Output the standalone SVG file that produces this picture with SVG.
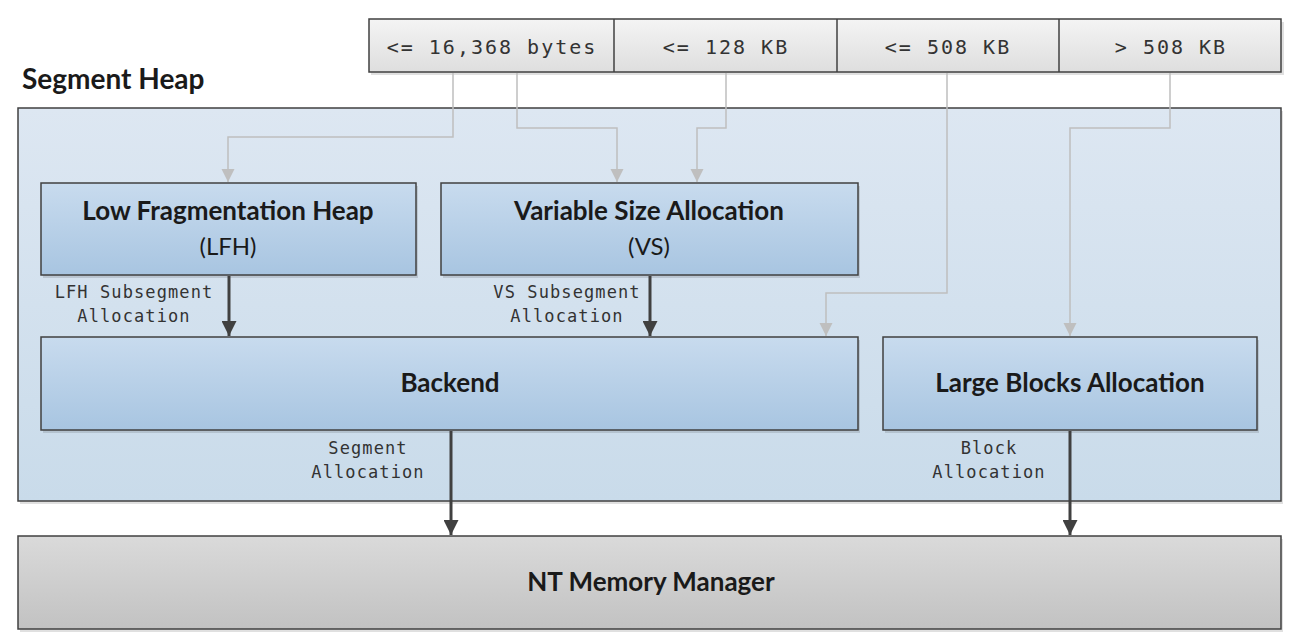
<svg xmlns="http://www.w3.org/2000/svg" width="1303" height="644" viewBox="0 0 1303 644">
<defs>
<linearGradient id="gBlue" x1="0" y1="0" x2="0" y2="1"><stop offset="0" stop-color="#c8dbee"/><stop offset="1" stop-color="#a8c5e1"/></linearGradient>
<linearGradient id="gCont" x1="0" y1="0" x2="0" y2="1"><stop offset="0" stop-color="#dde7f2"/><stop offset="1" stop-color="#c9dbea"/></linearGradient>
<linearGradient id="gGray" x1="0" y1="0" x2="0" y2="1"><stop offset="0" stop-color="#dadada"/><stop offset="1" stop-color="#c2c2c2"/></linearGradient>
<linearGradient id="gTop" x1="0" y1="0" x2="0" y2="1"><stop offset="0" stop-color="#f4f4f4"/><stop offset="1" stop-color="#dedede"/></linearGradient>
<marker id="aDark" viewBox="0 0 10 10" refX="10" refY="5" markerWidth="5" markerHeight="5" markerUnits="strokeWidth" orient="auto"><path d="M0,0 L10,5 L0,10 z" fill="#404040"/></marker>
<marker id="aLight" viewBox="0 0 10 10" refX="10" refY="5" markerWidth="9" markerHeight="9" markerUnits="strokeWidth" orient="auto"><path d="M0,0 L10,5 L0,10 z" fill="#bfbfbf"/></marker>
</defs>
<style>
.box{stroke:#404040;stroke-width:1.5}
.shadow{fill:#000;opacity:0.12}
.title{font-family:Lato,"Liberation Sans",sans-serif;font-weight:bold;font-size:26px;fill:#1a1a1a;text-anchor:middle}
.sub{font-family:Lato,"Liberation Sans",sans-serif;font-size:24px;fill:#1a1a1a;text-anchor:middle}
.mono{font-family:"DejaVu Sans Mono","Liberation Mono",monospace;font-size:17px;letter-spacing:1.1px;fill:#333;text-anchor:middle}
.monoTop{font-family:"DejaVu Sans Mono","Liberation Mono",monospace;font-size:20px;letter-spacing:2px;fill:#333;text-anchor:middle}
.light{fill:none;stroke:#bfbfbf;stroke-width:1.5;marker-end:url(#aLight)}
.dark{fill:none;stroke:#404040;stroke-width:3;marker-end:url(#aDark)}
</style>
<rect width="1303" height="644" fill="#fff"/>

<g id="sizes">
<rect class="shadow" x="371" y="22" width="913" height="53"/>
<rect class="box" x="369" y="19" width="912" height="53" fill="url(#gTop)"/>
<line x1="614" y1="19" x2="614" y2="72" stroke="#404040" stroke-width="1.5"/>
<line x1="837" y1="19" x2="837" y2="72" stroke="#404040" stroke-width="1.5"/>
<line x1="1059" y1="19" x2="1059" y2="72" stroke="#404040" stroke-width="1.5"/>
<text class="monoTop" x="492" y="54">&lt;= 16,368 bytes</text>
<text class="monoTop" x="726" y="54">&lt;= 128 KB</text>
<text class="monoTop" x="948" y="54">&lt;= 508 KB</text>
<text class="monoTop" x="1171" y="54">&gt; 508 KB</text>
</g>

<g id="segment-heap">
<text x="22" y="89" font-family="Lato,'Liberation Sans',sans-serif" font-weight="bold" font-size="28" fill="#1a1a1a">Segment Heap</text>
<rect class="shadow" x="20" y="111" width="1263" height="393"/>
<rect class="box" x="18" y="108" width="1263" height="393" fill="url(#gCont)"/>
</g>

<g id="lfh">
<rect class="shadow" x="43" y="186" width="375" height="92"/>
<rect class="box" x="41" y="183" width="375" height="92" fill="url(#gBlue)"/>
<text class="title" x="228" y="220">Low Fragmentation Heap</text>
<text class="sub" x="228" y="255">(LFH)</text>
</g>

<g id="vs">
<rect class="shadow" x="443" y="186" width="417" height="92"/>
<rect class="box" x="441" y="183" width="417" height="92" fill="url(#gBlue)"/>
<text class="title" x="649" y="220">Variable Size Allocation</text>
<text class="sub" x="649" y="255">(VS)</text>
</g>

<g id="backend">
<rect class="shadow" x="43" y="340" width="817" height="93"/>
<rect class="box" x="41" y="337" width="817" height="93" fill="url(#gBlue)"/>
<text class="title" x="450" y="392">Backend</text>
</g>

<g id="large-blocks">
<rect class="shadow" x="885" y="340" width="374" height="93"/>
<rect class="box" x="883" y="337" width="374" height="93" fill="url(#gBlue)"/>
<text class="title" x="1070" y="392">Large Blocks Allocation</text>
</g>

<g id="nt-memory-manager">
<rect class="shadow" x="20" y="539" width="1263" height="93"/>
<rect class="box" x="18" y="536" width="1263" height="93" fill="url(#gGray)"/>
<text class="title" x="651" y="591">NT Memory Manager</text>
</g>

<g id="connectors">
<polyline class="light" points="453,73 453,137 228,137 228,182"/>
<polyline class="light" points="517,73 517,128 617,128 617,182"/>
<polyline class="light" points="726,73 726,128 697,128 697,182"/>
<polyline class="light" points="947,73 947,293 826,293 826,336"/>
<polyline class="light" points="1170,73 1170,128 1070,128 1070,336"/>
<line class="dark" x1="229" y1="276" x2="229" y2="336"/>
<line class="dark" x1="650" y1="276" x2="650" y2="336"/>
<line class="dark" x1="451" y1="431" x2="451" y2="535"/>
<line class="dark" x1="1070" y1="431" x2="1070" y2="535"/>
<text class="mono" x="134" y="298">LFH Subsegment</text>
<text class="mono" x="134" y="322">Allocation</text>
<text class="mono" x="567" y="298">VS Subsegment</text>
<text class="mono" x="567" y="322">Allocation</text>
<text class="mono" x="368" y="454">Segment</text>
<text class="mono" x="368" y="478">Allocation</text>
<text class="mono" x="989" y="454">Block</text>
<text class="mono" x="989" y="478">Allocation</text>
</g>
</svg>
